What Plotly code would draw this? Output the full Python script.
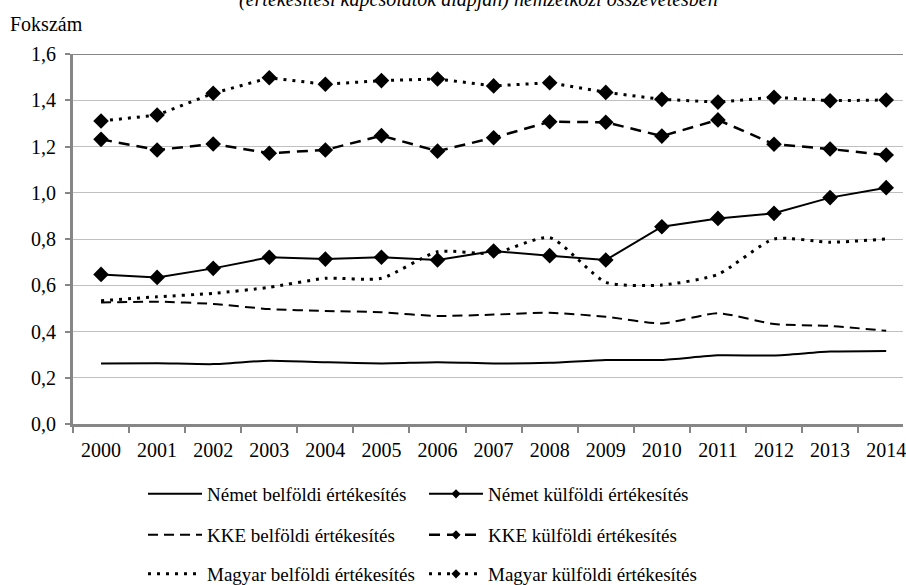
import plotly.graph_objects as go

years = [str(y) for y in range(2000, 2015)]

nemet_belfoldi = [0.262, 0.263, 0.259, 0.274, 0.267, 0.262, 0.267, 0.262, 0.265, 0.277, 0.277, 0.297, 0.296, 0.313, 0.316]
nemet_kulfoldi = [0.647, 0.634, 0.673, 0.721, 0.713, 0.721, 0.709, 0.748, 0.728, 0.709, 0.853, 0.889, 0.911, 0.979, 1.022]
kke_belfoldi = [0.525, 0.529, 0.519, 0.497, 0.489, 0.483, 0.467, 0.473, 0.481, 0.464, 0.435, 0.479, 0.432, 0.424, 0.403]
kke_kulfoldi = [1.231, 1.185, 1.211, 1.171, 1.185, 1.247, 1.180, 1.238, 1.307, 1.305, 1.245, 1.315, 1.210, 1.189, 1.163]
magyar_belfoldi = [0.533, 0.550, 0.565, 0.591, 0.630, 0.630, 0.745, 0.738, 0.806, 0.613, 0.601, 0.647, 0.800, 0.786, 0.800]
magyar_kulfoldi = [1.310, 1.336, 1.430, 1.497, 1.469, 1.485, 1.492, 1.462, 1.476, 1.434, 1.404, 1.392, 1.413, 1.398, 1.401]

y_ticks = [0.0, 0.2, 0.4, 0.6, 0.8, 1.0, 1.2, 1.4, 1.6]

names = [
    "Német belföldi értékesítés", "Német külföldi értékesítés",
    "KKE belföldi értékesítés", "KKE külföldi értékesítés",
    "Magyar belföldi értékesítés", "Magyar külföldi értékesítés",
]

FONT = "Liberation Serif, Times New Roman, serif"
FS = 20
LFS = 19
W, H = 906, 585
L, T, B = 73, 54, 161
PW, PH = W - L, H - T - B

def px(xp):
    return (xp - L) / PW

def py(yp):
    return (H - B - yp) / PH

series = [
    (nemet_belfoldi, "solid", 2, False, True),
    (nemet_kulfoldi, "solid", 2, True, False),
    (kke_belfoldi, "10px,6px", 2, False, True),
    (kke_kulfoldi, "11px,7px", 2.5, True, False),
    (magyar_belfoldi, "3px,6px", 3, False, True),
    (magyar_kulfoldi, "3px,6px", 3, True, False),
]
legend_ids = ["legend", "legend", "legend2", "legend2", "legend3", "legend3"]

fig = go.Figure()
for (vals, dash, lw, mk, smooth), name in zip(series, names):
    fig.add_trace(go.Scatter(
        x=years, y=vals, name=name, showlegend=False,
        mode="lines+markers" if mk else "lines",
        line=dict(color="black", width=lw, dash=dash,
                  shape="spline" if smooth else "linear", smoothing=0.6),
        marker=dict(symbol="diamond", size=12, color="black"),
    ))
# legend-only entries (smaller markers like the original legend)
for (vals, dash, lw, mk, smooth), name, lg in zip(series, names, legend_ids):
    fig.add_trace(go.Scatter(
        x=[None], y=[None], name=name, legend=lg, showlegend=True,
        mode="lines+markers" if mk else "lines",
        line=dict(color="black", width=lw, dash=dash),
        marker=dict(symbol="diamond", size=7, color="black"),
    ))

def leg(ypix):
    return dict(orientation="h", xref="container", yref="container",
                x=143 / W, y=1 - ypix / H, xanchor="left", yanchor="middle",
                font=dict(family=FONT, size=LFS, color="black"),
                entrywidth=212, entrywidthmode="pixels", itemwidth=54,
                bgcolor="rgba(0,0,0,0)", traceorder="normal")

fig.update_layout(
    width=W, height=H,
    margin=dict(l=L, r=0, t=T, b=B, pad=0),
    paper_bgcolor="white", plot_bgcolor="white",
    font=dict(family=FONT, size=FS, color="black"),
    separators=", ",
    legend=leg(494), legend2=leg(535), legend3=leg(574),
    xaxis=dict(type="category", categoryorder="array", categoryarray=years,
               range=[-0.5, 14.3], tickson="boundaries",
               showline=True, linecolor="#868686", linewidth=3,
               ticks="outside", ticklen=6, tickwidth=2, tickcolor="#868686",
               ticklabelstandoff=6,
               showgrid=False, tickfont=dict(family=FONT, size=FS, color="black")),
    yaxis=dict(range=[0, 1.6], tickvals=y_ticks, tickformat=".1f",
               showline=True, linecolor="#868686", linewidth=3,
               ticks="outside", ticklen=5, tickwidth=2, tickcolor="#868686",
               ticklabelstandoff=5,
               showgrid=True, gridcolor="#c0c0c0", gridwidth=1,
               zeroline=False, tickfont=dict(family=FONT, size=FS, color="black")),
    annotations=[
        dict(text="<i>(értékesítési kapcsolatok alapján) nemzetközi összevetésben</i>",
             xref="paper", yref="paper", x=px(480), y=py(13),
             xanchor="center", yanchor="bottom", showarrow=False,
             font=dict(family=FONT, size=FS, color="black")),
        dict(text="Fokszám", xref="paper", yref="paper",
             x=px(8), y=py(24), xanchor="left", yanchor="middle",
             showarrow=False, font=dict(family=FONT, size=FS, color="black")),
    ],
    shapes=[dict(type="line", xref="paper", yref="y", x0=0, x1=1, y0=1.6, y1=1.6,
                 line=dict(color="#868686", width=2), layer="below")],
)

fig.write_html("out.html", config={"displayModeBar": False},
               post_script="document.body.style.margin='0';")
